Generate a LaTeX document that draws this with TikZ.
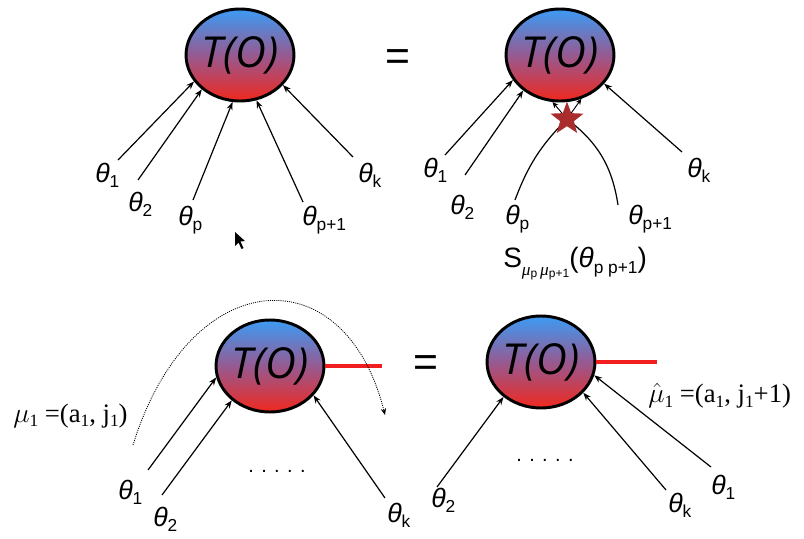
\documentclass[tikz,border=0pt]{standalone}
\usepackage{fontspec}
\setmainfont{Liberation Sans}
\newfontfamily\seriff{Liberation Serif}
\newfontfamily\tofont{Open Sans}
\usetikzlibrary{shapes.geometric,arrows.meta}
\definecolor{blobtop}{RGB}{60,155,245}
\definecolor{blobmid}{RGB}{150,90,145}
\definecolor{blobbot}{RGB}{240,40,30}
\definecolor{starred}{RGB}{170,45,45}
\definecolor{legred}{RGB}{240,30,30}
\newcommand{\lo}[1]{\raisebox{-0.35ex}{\fontsize{13}{13}\selectfont #1}}
\newcommand{\slo}[1]{\raisebox{-0.3ex}{\fontsize{9}{9}\selectfont #1}}
\newcommand{\thet}[1]{{\itshape θ}\lo{#1}}
\begin{document}
\begin{tikzpicture}[x=0.75pt,y=-0.75pt,
  blob/.style={ellipse, draw=black, line width=2.2pt, minimum width=75pt, minimum height=69pt,
     inner sep=0pt, top color=blobtop, bottom color=blobbot, middle color=blobmid,
     font=\tofont\itshape\fontsize{32}{32}\selectfont},
  conn/.style={line width=0.9pt, -{Stealth[length=6pt,width=4.5pt]}},
  lab/.style={anchor=west, inner sep=0pt, font=\fontsize{20}{20}\selectfont},
  eqs/.style={inner sep=0pt, font=\fontsize{32}{32}\selectfont},
  dotsl/.style={inner sep=0pt, font=\fontsize{15}{15}\selectfont},
  mulab/.style={anchor=west, inner sep=0pt, font=\seriff\fontsize{20}{20}\selectfont},
  redleg/.style={legred, line width=2.8pt},
  arcline/.style={line width=0.6pt, dash pattern=on 0.8pt off 0.8pt, -{Stealth[length=5pt,width=4pt]}}
]
\useasboundingbox (0,0) rectangle (804,539);

% ---------- top left ----------
\node[blob] (A) at (240,55) {T(O)};
\coordinate (a1) at (118,160);
\coordinate (a2) at (138,180);
\coordinate (ap) at (193,200);
\coordinate (aq) at (303,202);
\coordinate (ak) at (353,157);
\draw[conn] (a1) -- (A.210);
\draw[conn] (a2) -- (A.222);
\draw[conn] (ap) -- (A.261);
\draw[conn] (aq) -- (A.290);
\draw[conn] (ak) -- (A.325);
\node[lab] (la1) at (95,175) {\thet{1}};
\node[lab] (la2) at (128,204) {\thet{2}};
\node[lab] (lap) at (178,220) {\thet{p}};
\node[lab] (laq) at (302,220) {\thet{p+1}};
\node[lab] (lak) at (358,175) {\thet{k}};

% cursor
\fill (235,232) -- (235,246) -- (238.5,242.5) -- (241.5,249) -- (243.5,248) -- (240.5,241.5) -- (245,241) -- cycle;

\node[eqs] (eq1) at (398,60) {=};

% ---------- top right ----------
\node[blob] (B) at (560,55) {T(O)};
\coordinate (b1) at (445,155);
\coordinate (b2) at (465,175);
\coordinate (bp) at (515,200);
\coordinate (bq) at (618,205);
\coordinate (bk) at (682,152);
\coordinate (sc) at (567,119);
\draw[conn] (b1) -- (B.208);
\draw[conn] (b2) -- (B.224);
\draw[conn] (bk) -- (B.327);
\draw[line width=0.9pt] (bp) to[bend left=12] (sc);
\draw[line width=0.9pt] (bq) to[bend right=22] (sc);
\draw[line width=0.7pt, -{Stealth[length=4.5pt,width=4pt]}] (sc) -- (B.261);
\draw[line width=0.7pt, -{Stealth[length=4.5pt,width=4pt]}] (sc) -- (B.296);
\node[star, star points=5, star point ratio=2.4, minimum size=26pt, inner sep=0pt, fill=starred] (S) at (sc) {};
\node[lab] (lb1) at (423,170) {\thet{1}};
\node[lab] (lb2) at (450,207) {\thet{2}};
\node[lab] (lbp) at (505,219) {\thet{p}};
\node[lab] (lbq) at (628,219) {\thet{p+1}};
\node[lab] (lbk) at (687,170) {\thet{k}};
\node[lab, font=\fontsize{21}{21}\selectfont] (smat) at (503,264)
  {S\raisebox{-0.5ex}{\fontsize{13}{13}\selectfont{\seriff\itshape μ}\slo{p}\,{\seriff\itshape μ}\slo{p+1}}({\itshape θ}\lo{p p+1})};

% ---------- bottom left ----------
\node[blob] (C) at (270,366) {T(O)};
\coordinate (cr) at (382,366);
\draw[redleg] (C.east) -- (C.east -| cr);
\coordinate (c1) at (148,470);
\coordinate (c2) at (162,495);
\coordinate (ck) at (385,498);
\draw[conn] (c1) -- (C.192);
\draw[conn] (c2) -- (C.222);
\draw[conn] (ck) -- (C.326);
\coordinate (arcS) at (133,445);
\coordinate (arcE) at (385,415);
\draw[arcline] (arcS) .. controls (190,262) and (345,255) .. (arcE);
\node[lab] (lc1) at (118,492) {\thet{1}};
\node[lab] (lc2) at (153,519) {\thet{2}};
\node[lab] (lck) at (387,515) {\thet{k}};
\node[dotsl] (dc) at (277,471) {. . . . .};
\node[mulab] (mu1) at (13,416) {$\mu$\lo{1} =(a\lo{1}, j\lo{1})};

\node[eqs] (eq2) at (426,366) {=};

% ---------- bottom right ----------
\node[blob] (D) at (541,362) {T(O)};
\coordinate (dr) at (657,362);
\draw[redleg] (D.east) -- (D.east -| dr);
\coordinate (d2) at (437,487);
\coordinate (dk) at (666,490);
\coordinate (d1) at (711,467);
\draw[conn] (d2) -- (D.223);
\draw[conn] (dk) -- (D.324);
\draw[conn] (d1) -- (D.346);
\node[lab] (ld2) at (431,500) {\thet{2}};
\node[lab] (ldk) at (668,505) {\thet{k}};
\node[lab] (ld1) at (711,487) {\thet{1}};
\node[dotsl] (dd) at (545,460) {. . . . .};
\node[mulab] (mu2) at (648,396) {$\hat{\mu}$\lo{1} =(a\lo{1}, j\lo{1}+1)};
\end{tikzpicture}
\end{document}
